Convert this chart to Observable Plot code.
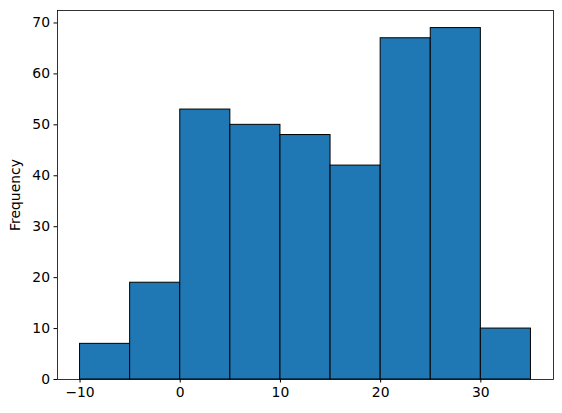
<!DOCTYPE html>
<html>
<head>
<meta charset="utf-8">
<script src="https://cdn.jsdelivr.net/npm/d3@7"></script>
<script src="https://cdn.jsdelivr.net/npm/@observablehq/plot@0.6"></script>
<style>
  body { margin: 0; background: #fff; }
</style>
</head>
<body>
<div id="chart"></div>
<script>
const binStarts = [-10, -5, 0, 5, 10, 15, 20, 25, 30];
const binWidth = 5;
const counts = [7, 19, 53, 50, 48, 42, 67, 69, 10];
const xTicks = [-10, 0, 10, 20, 30];
const yTicks = [0, 10, 20, 30, 40, 50, 60, 70];

const bins = binStarts.map((s, i) => ({x1: s, x2: s + binWidth, count: counts[i]}));

const chart = Plot.plot({
  width: 562,
  height: 413,
  marginLeft: 57,
  marginRight: 9,
  marginTop: 10,
  marginBottom: 34,
  style: {fontFamily: "DejaVu Sans", fontSize: "13.9px", background: "#fff", color: "#000"},
  x: {domain: [-12.25, 37.25], ticks: xTicks, tickSize: 3.5, tickPadding: 4, label: null},
  y: {domain: [0, 72.45], ticks: yTicks, tickSize: 3.5, tickPadding: 4,
      label: "Frequency", labelAnchor: "center", labelArrow: "none", labelOffset: 47},
  marks: [
    Plot.rectY(bins, {x1: "x1", x2: "x2", y: "count", fill: "#1f77b4", stroke: "#000", strokeWidth: 1}),
    Plot.frame({stroke: "#000", strokeWidth: 0.8})
  ]
});
document.getElementById("chart").appendChild(chart);
</script>
</body>
</html>
